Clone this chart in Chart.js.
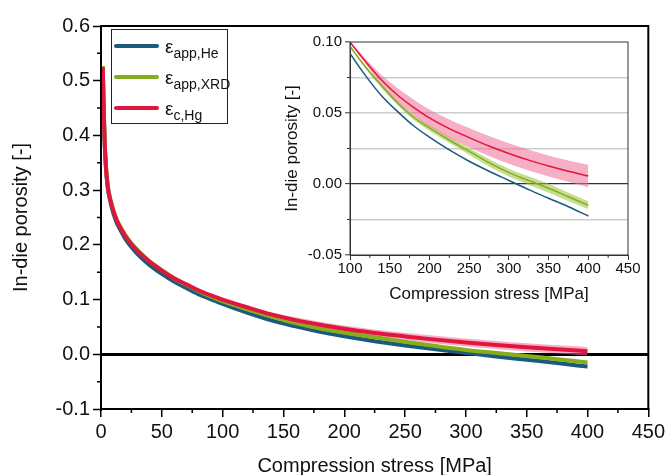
<!DOCTYPE html>
<html>
<head>
<meta charset="utf-8">
<script src="https://cdn.jsdelivr.net/npm/chart.js@4.4.1/dist/chart.umd.min.js"></script>
<style>
  html, body { margin: 0; padding: 0; background: #fff; overflow: hidden; }
  #wrap { position: relative; width: 668px; height: 475px; overflow: hidden; }
  #mainChart { position: absolute; left: 0; top: 0; }
  #insetChart { position: absolute; left: 270px; top: 30px; }
  #legend {
    position: absolute; left: 111px; top: 29px; width: 115px; height: 93px;
    border: 1px solid #222; background: #fff;
    font-family: 'Liberation Sans', Arial, sans-serif; color: #111;
  }
  .row { position: absolute; left: 2px; height: 30px; }
  .swatch { position: absolute; left: 0; top: 0; width: 45px; height: 4px; border-radius: 2px; }
  .lbl { position: absolute; left: 51px; top: -8px; font-size: 19px; white-space: nowrap; }
  .lbl sub { font-size: 14px; vertical-align: -5px; }
</style>
</head>
<body>
<div id="wrap">
  <canvas id="mainChart" width="668" height="485"></canvas>
  <canvas id="insetChart" width="380" height="285"></canvas>
  <div id="legend"></div>
</div>
<script>
// compression stress [MPa]
const stress = [1.5, 2, 2.5, 3, 4, 5, 6, 8, 10, 13, 16, 20, 25, 30, 40, 50, 60, 70, 80, 90,
                100, 120, 140, 160, 180, 200, 225, 250, 275, 300, 325, 350, 375, 400];

// in-die porosity [-]
const porosityHe = [0.522, 0.467, 0.425, 0.387, 0.342, 0.315, 0.297, 0.276, 0.259, 0.240,
                    0.227, 0.211, 0.196, 0.183, 0.163, 0.147, 0.133, 0.121, 0.110, 0.101,
                    0.092, 0.076, 0.062, 0.051, 0.041, 0.033, 0.024, 0.016, 0.009, 0.0025,
                    -0.004, -0.010, -0.016, -0.0225];
const porosityXRD = [0.527, 0.472, 0.430, 0.392, 0.347, 0.320, 0.302, 0.281, 0.265, 0.246,
                     0.233, 0.218, 0.203, 0.191, 0.170, 0.154, 0.139, 0.127, 0.116, 0.106,
                     0.097, 0.082, 0.069, 0.057, 0.047, 0.0395, 0.031, 0.023, 0.015, 0.008,
                     0.0025, -0.003, -0.009, -0.015];
const porosityHg = [0.525, 0.470, 0.428, 0.390, 0.345, 0.318, 0.300, 0.279, 0.263, 0.244,
                    0.231, 0.216, 0.201, 0.189, 0.169, 0.153, 0.139, 0.128, 0.117, 0.108,
                    0.100, 0.086, 0.073, 0.0625, 0.054, 0.0465, 0.039, 0.0327, 0.0268, 0.0215,
                    0.0168, 0.0127, 0.009, 0.0056];

// uncertainty bands
const bandStress = [100, 120, 140, 160, 180, 200, 225, 250, 275, 300, 325, 350, 375, 400];
const hgUpper  = [0.1005, 0.0880, 0.0765, 0.0675, 0.0595, 0.0525, 0.0455, 0.0395, 0.0338, 0.0287, 0.0241, 0.0201, 0.0165, 0.0135];
const hgLower  = [0.0995, 0.0840, 0.0695, 0.0575, 0.0485, 0.0405, 0.0325, 0.0259, 0.0198, 0.0143, 0.0095, 0.0053, 0.0015, -0.0023];
const xrdUpper = [0.0975, 0.0830, 0.0705, 0.0585, 0.0488, 0.0415, 0.0332, 0.0254, 0.0176, 0.0108, 0.0055, 0.0002, -0.0061, -0.0122];
const xrdLower = [0.0965, 0.0810, 0.0675, 0.0555, 0.0452, 0.0375, 0.0288, 0.0206, 0.0124, 0.0052, -0.0005, -0.0062, -0.0119, -0.0178];

// legend text: epsilon + subscript
const legendSubs = ['app,He', 'app,XRD', 'c,Hg'];

// axis ticks
const mainXTicks = [0, 50, 100, 150, 200, 250, 300, 350, 400, 450];
const mainXMinor = [25, 75, 125, 175, 225, 275, 325, 375, 425];
const mainYTicks = [-0.1, 0, 0.1, 0.2, 0.3, 0.4, 0.5, 0.6];
const mainYMinor = [-0.05, 0.05, 0.15, 0.25, 0.35, 0.45, 0.55];
const insetXTicks = [100, 150, 200, 250, 300, 350, 400, 450];
const insetXMinor = [125, 175, 225, 275, 325, 375, 425];
const insetYTicks = [-0.05, -0.025, 0, 0.025, 0.05, 0.075, 0.1];
const insetYMinor = [-0.025, 0.025, 0.075];

const BLUE = '#1a5b7c';
const GREEN = '#86ad1c';
const RED = '#e0163f';
const PINK = 'rgba(238, 110, 150, 0.55)';
const LIGHTGREEN = 'rgba(150, 195, 60, 0.55)';
const FONT = "'Liberation Sans', Arial, sans-serif";

Chart.defaults.font.family = FONT;
Chart.defaults.color = '#111';

const pts = (xs, ys) => xs.map((x, i) => ({ x, y: ys[i] }));
const isZero = v => Math.abs(v) < 1e-9;

// frame around plot area + short minor ticks
const framePlugin = {
  id: 'frame',
  afterDraw(chart, args, opts) {
    const { ctx, chartArea: a, scales } = chart;
    ctx.save();
    ctx.strokeStyle = opts.color;
    ctx.lineWidth = opts.width;
    ctx.strokeRect(a.left, a.top, a.right - a.left, a.bottom - a.top);
    ctx.lineWidth = opts.tickWidth;
    ctx.beginPath();
    opts.minorX.forEach(v => {
      const px = scales.x.getPixelForValue(v);
      ctx.moveTo(px, a.bottom);
      ctx.lineTo(px, a.bottom + opts.minorLen);
    });
    opts.minorY.forEach(v => {
      const py = scales.y.getPixelForValue(v);
      ctx.moveTo(a.left, py);
      ctx.lineTo(a.left - opts.minorLen, py);
    });
    ctx.stroke();
    ctx.restore();
  }
};

function makeDatasets(lw) {
  const line = { pointRadius: 0, cubicInterpolationMode: 'monotone', fill: false };
  return [
    { ...line, label: 'Hg', data: pts(stress, porosityHg), borderColor: RED, borderWidth: lw, order: 0 },
    { ...line, label: 'XRD', data: pts(stress, porosityXRD), borderColor: GREEN, borderWidth: lw, order: 1 },
    { ...line, label: 'He', data: pts(stress, porosityHe), borderColor: BLUE, borderWidth: lw, order: 2 },
    { ...line, data: pts(bandStress, hgUpper), borderWidth: 0, backgroundColor: PINK, fill: '+1', order: 3 },
    { ...line, data: pts(bandStress, hgLower), borderWidth: 0, order: 4 },
    { ...line, data: pts(bandStress, xrdUpper), borderWidth: 0, backgroundColor: LIGHTGREEN, fill: '+1', order: 5 },
    { ...line, data: pts(bandStress, xrdLower), borderWidth: 0, order: 6 }
  ];
}

const setTicks = list => scale => { scale.ticks = list.map(v => ({ value: v })); };

const mainChart = new Chart(document.getElementById('mainChart'), {
  type: 'line',
  data: { datasets: makeDatasets(4) },
  options: {
    responsive: false,
    animation: false,
    events: [],
    devicePixelRatio: 1,
    layout: { padding: { top: 26, right: 19, left: 0, bottom: 0 } },
    plugins: {
      legend: { display: false },
      tooltip: { enabled: false },
      frame: { color: '#000', width: 2, tickWidth: 1.5, minorLen: 4, minorX: mainXMinor, minorY: mainYMinor }
    },
    scales: {
      x: {
        type: 'linear', min: 0, max: 450,
        afterBuildTicks: setTicks(mainXTicks),
        afterFit: s => { s.height = 76; },
        border: { color: '#000', width: 2 },
        grid: { drawOnChartArea: false, color: '#000', tickLength: 8, lineWidth: 1.5 },
        ticks: { font: { size: 20 }, color: '#111', padding: 3, maxRotation: 0 },
        title: { display: true, text: 'Compression stress [MPa]', font: { size: 20 }, color: '#111', padding: { top: 0, bottom: 7 } }
      },
      y: {
        type: 'linear', min: -0.1, max: 0.6,
        afterBuildTicks: setTicks(mainYTicks),
        afterFit: s => { s.width = 101; },
        border: { color: '#000', width: 2 },
        grid: {
          color: c => isZero(c.tick.value) ? '#000' : 'rgba(0,0,0,0)',
          lineWidth: 3,
          tickColor: '#000', tickWidth: 1.5, tickLength: 8
        },
        ticks: { font: { size: 20 }, color: '#111', padding: 3, callback: v => Number(v).toFixed(1) },
        title: { display: true, text: 'In-die porosity [-]', font: { size: 20 }, color: '#111', padding: { top: 9, bottom: 0 } }
      }
    }
  },
  plugins: [framePlugin]
});

const insetChart = new Chart(document.getElementById('insetChart'), {
  type: 'line',
  data: { datasets: makeDatasets(1.5) },
  options: {
    responsive: false,
    animation: false,
    events: [],
    devicePixelRatio: 1,
    layout: { padding: { top: 11, right: 22, left: 0, bottom: 0 } },
    plugins: {
      legend: { display: false },
      tooltip: { enabled: false },
      frame: { color: '#333', width: 1, tickWidth: 1, minorLen: 3, minorX: insetXMinor, minorY: insetYMinor }
    },
    scales: {
      x: {
        type: 'linear', min: 100, max: 450,
        afterBuildTicks: setTicks(insetXTicks),
        afterFit: s => { s.height = 60; },
        border: { color: '#333', width: 1 },
        grid: { drawOnChartArea: false, color: '#333', tickLength: 5, lineWidth: 1 },
        ticks: { font: { size: 15 }, color: '#111', padding: 0, maxRotation: 0 },
        title: { display: true, text: 'Compression stress [MPa]', font: { size: 17 }, color: '#111', padding: { top: 0, bottom: 10 } }
      },
      y: {
        type: 'linear', min: -0.05, max: 0.1,
        afterBuildTicks: setTicks(insetYTicks),
        afterFit: s => { s.width = 80; },
        border: { color: '#333', width: 1 },
        grid: {
          color: c => {
            const v = c.tick.value;
            if (isZero(v)) return '#333';
            if (v > 0.099 || v < -0.049) return 'rgba(0,0,0,0)';
            return '#cccccc';
          },
          lineWidth: c => isZero(c.tick.value) ? 1.2 : 1.6,
          tickColor: c => insetYMinor.some(m => Math.abs(m - c.tick.value) < 1e-9) ? 'rgba(0,0,0,0)' : '#333',
          tickWidth: 1, tickLength: 5
        },
        ticks: {
          font: { size: 15 }, color: '#111', padding: 3,
          callback: v => insetYMinor.some(m => Math.abs(m - v) < 1e-9) ? '' : Number(v).toFixed(2)
        },
        title: { display: true, text: 'In-die porosity [-]', font: { size: 17 }, color: '#111', padding: { top: 12, bottom: 0 } }
      }
    }
  },
  plugins: [framePlugin]
});

// HTML legend (needs subscripts), colours taken from the chart datasets
const legendEl = document.getElementById('legend');
const legendSets = [2, 1, 0].map(i => mainChart.data.datasets[i]);
legendSets.forEach((ds, i) => {
  const row = document.createElement('div');
  row.className = 'row';
  row.style.top = (14 + i * 31) + 'px';
  row.innerHTML = `<div class="swatch" style="background:${ds.borderColor}"></div>` +
                  `<div class="lbl">ε<sub>${legendSubs[i]}</sub></div>`;
  legendEl.appendChild(row);
});
</script>
</body>
</html>
